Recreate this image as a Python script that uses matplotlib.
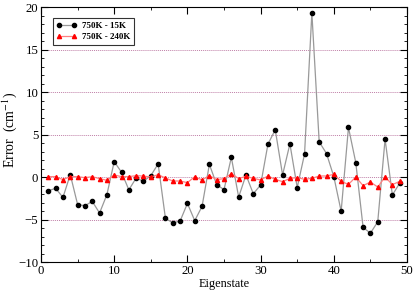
import matplotlib
matplotlib.use("Agg")
import matplotlib.pyplot as plt
from matplotlib.ticker import MultipleLocator

eigenstate = list(range(1, 50))
err_15K = [-1.57, -1.3, -2.36, 0.32, -3.2, -3.34, -2.83, -4.2, -2.04, 1.85,
           0.6, -1.47, -0.08, -0.47, 0.2, 1.58, -4.84, -5.35, -5.15, -3.07,
           -5.1, -3.42, 1.52, -0.86, -1.45, 2.36, -2.32, 0.28, -1.93, -0.9,
           3.9, 5.6, 0.28, 3.94, -1.2, 2.74, 19.35, 4.18, 2.8, 0.08,
           -4.0, 5.87, 1.73, -5.9, -6.57, -5.23, 4.49, -2.08, -0.68]
err_240K = [0.08, 0.08, -0.27, 0.08, 0.08, -0.04, 0.08, -0.15, -0.35, 0.28,
            0.08, 0.08, 0.2, 0.15, 0.04, 0.32, -0.08, -0.43, -0.43, -0.63,
            0.08, -0.31, 0.2, -0.27, -0.15, 0.44, -0.15, 0.12, -0.12, -0.31,
            0.16, -0.24, -0.51, -0.12, -0.04, -0.23, -0.12, 0.16, 0.16, 0.35,
            -0.47, -0.83, 0.04, -0.98, -0.55, -1.14, 0.04, -0.86, -0.47]
grid_levels = [-5, 0, 5, 10, 15]

plt.rcParams['font.family'] = ['Liberation Serif', 'DejaVu Serif']
plt.rcParams['mathtext.fontset'] = 'stix'

fig = plt.figure(figsize=(4.15, 2.91), dpi=100)
ax = fig.add_axes([0.0988, 0.0986, 0.882, 0.876])

for g in grid_levels:
    ax.axhline(g, color='#c080a8', linestyle=(0, (1, 1)), linewidth=0.7, zorder=0)

ax.plot(eigenstate, err_15K, color='#999999', linewidth=0.9, marker='o',
        markersize=3.0, markerfacecolor='black', markeredgecolor='black',
        label='750K - 15K', zorder=3)
ax.plot(eigenstate, err_240K, color='#ff8080', linewidth=0.9, marker='^',
        markersize=3.0, markerfacecolor='red', markeredgecolor='red',
        label='750K - 240K', zorder=4)

ax.set_xlim(0, 50)
ax.set_ylim(-10, 20)
ax.xaxis.set_major_locator(MultipleLocator(10))
ax.xaxis.set_minor_locator(MultipleLocator(5))
ax.yaxis.set_major_locator(MultipleLocator(5))
ax.yaxis.set_minor_locator(MultipleLocator(1))
ax.tick_params(which='both', direction='in', top=True, right=True, labelsize=9.2, pad=2)
ax.tick_params(which='major', length=5, width=0.8)
ax.tick_params(which='minor', length=2.5, width=0.6)
for s in ax.spines.values():
    s.set_linewidth(0.8)

ax.set_xlabel('Eigenstate', fontsize=8.8)
ax.set_ylabel('Error  (cm$^{-1}$)', fontsize=10)
ax.xaxis.set_label_coords(0.5, -0.06)
ax.yaxis.set_label_coords(-0.06, 0.52)

leg = ax.legend(loc='upper left', bbox_to_anchor=(0.02, 0.975), numpoints=2,
                prop={'weight': 'bold', 'size': 6.5}, frameon=True, fancybox=False,
                edgecolor='black', handlelength=2.2, borderpad=0.4,
                labelspacing=0.3, handletextpad=0.6)
leg.get_frame().set_linewidth(0.8)

fig.savefig('out.png', dpi=100)
